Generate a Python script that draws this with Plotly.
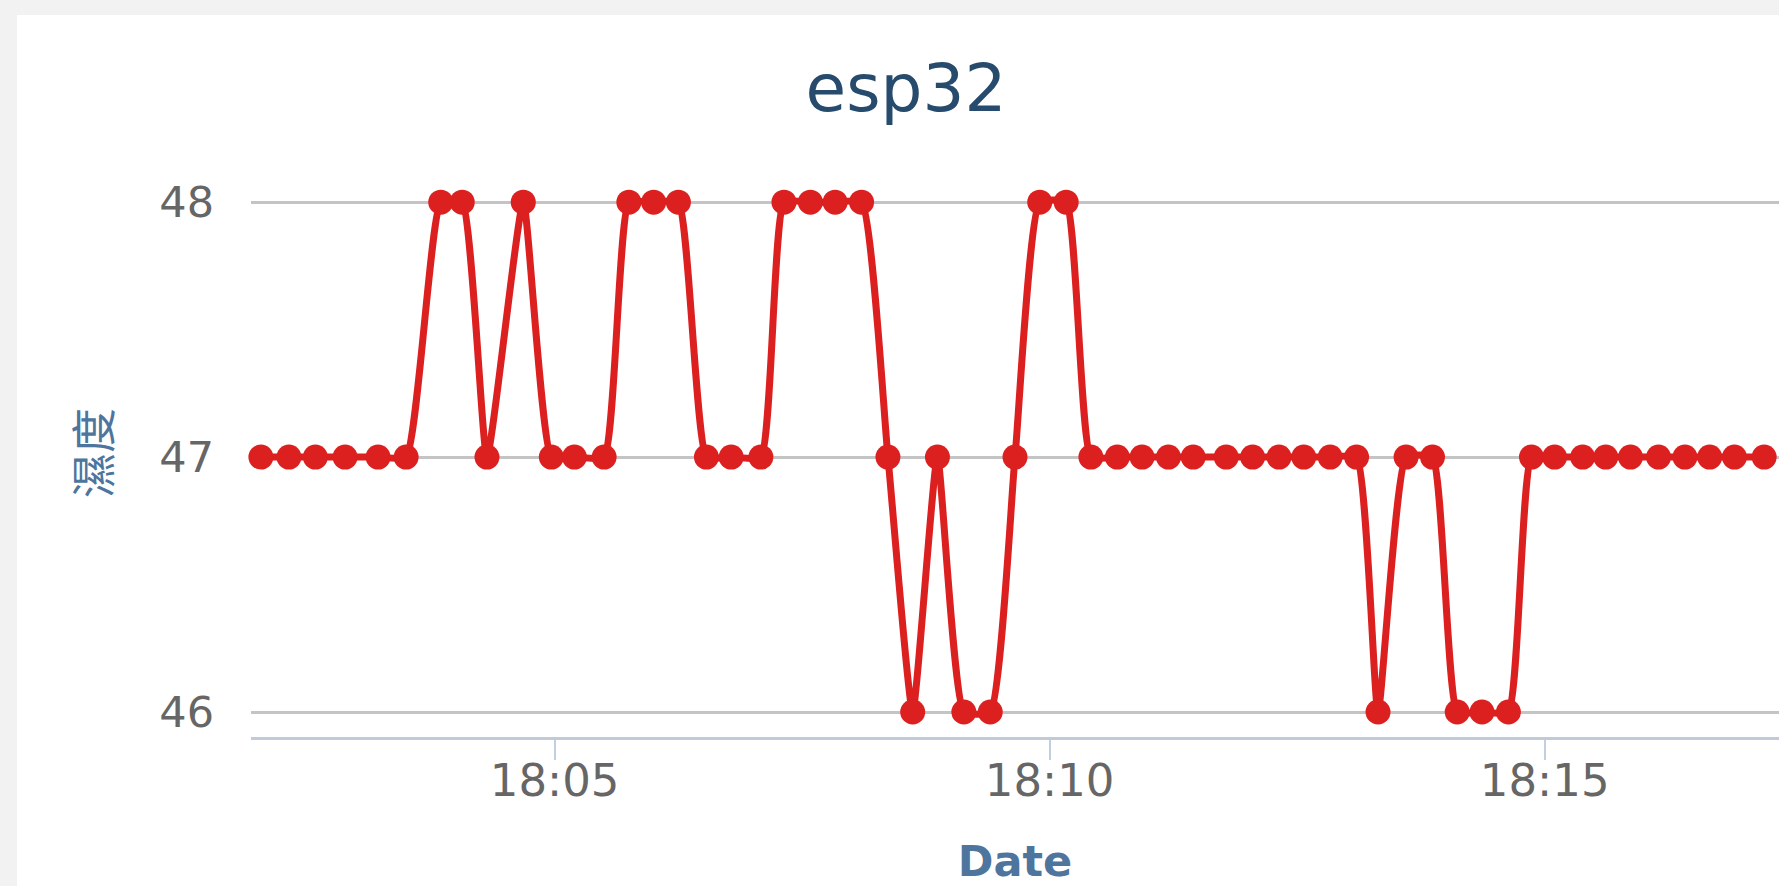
import plotly.graph_objects as go

# ---- data ----
day = "2024-01-01"
times = [
    "18:02:02", "18:02:19", "18:02:35", "18:02:53", "18:03:13", "18:03:30",
    "18:03:51", "18:04:04", "18:04:19", "18:04:41", "18:04:58", "18:05:12",
    "18:05:30", "18:05:45", "18:06:00", "18:06:15", "18:06:32", "18:06:47",
    "18:07:05", "18:07:19", "18:07:35", "18:07:50", "18:08:06", "18:08:22",
    "18:08:37", "18:08:52", "18:09:08", "18:09:24", "18:09:39", "18:09:54",
    "18:10:10", "18:10:25", "18:10:41", "18:10:56", "18:11:12", "18:11:27",
    "18:11:47", "18:12:03", "18:12:19", "18:12:34", "18:12:50", "18:13:06",
    "18:13:19", "18:13:36", "18:13:52", "18:14:07", "18:14:22", "18:14:38",
    "18:14:52", "18:15:06", "18:15:23", "18:15:37", "18:15:52", "18:16:09",
    "18:16:25", "18:16:40", "18:16:55", "18:17:13",
]
humidity = [
    47, 47, 47, 47, 47, 47,
    48, 48, 47, 48, 47, 47,
    47, 48, 48, 48, 47, 47,
    47, 48, 48, 48, 48, 47,
    46, 47, 46, 46, 47, 48,
    48, 47, 47, 47, 47, 47,
    47, 47, 47, 47, 47, 47,
    46, 47, 47, 46, 46, 46,
    47, 47, 47, 47, 47, 47,
    47, 47, 47, 47,
]
y_ticks = [46, 47, 48]
x_range = ["18:01:56", "18:17:22"]
y_range = [45.902, 48.04]

title_text = "esp32"
x_title = "Date"
y_title = "濕度"

# ---- figure ----
x_vals = [f"{day} {t}" for t in times]
RED = "#dc1f1f"
FONT = "DejaVu Sans, Noto Sans CJK TC, sans-serif"

W, H = 1779, 886
ML, MR, MT, MB = 251, 0, 192, 149
pw = W - ML - MR
ph = H - MT - MB

fig = go.Figure()
fig.add_trace(go.Scatter(
    x=x_vals, y=humidity, mode="lines+markers",
    line=dict(color=RED, width=7, shape="spline", smoothing=0.45),
    marker=dict(color=RED, size=25),
    cliponaxis=False, showlegend=False,
))

fig.update_layout(
    width=W, height=H,
    margin=dict(l=ML, r=MR, t=MT, b=MB, pad=0),
    paper_bgcolor="#f2f2f2",
    plot_bgcolor="white",
    font=dict(family=FONT, color="#666666"),
    title=dict(text=title_text, x=906 / W, xref="container", xanchor="center",
               y=1 - 88 / H, yref="container", yanchor="middle",
               font=dict(size=66, color="#274b6d", family=FONT)),
    xaxis=dict(
        type="date", range=[f"{day} {x_range[0]}", f"{day} {x_range[1]}"],
        dtick=5 * 60 * 1000, tick0=f"{day} 18:00:00", tickformat="%H:%M",
        showgrid=False, zeroline=False,
        showline=True, linecolor="#c0cad8", linewidth=2.5,
        ticks="outside", ticklen=20, tickwidth=2, tickcolor="#c0d0e0",
        ticklabelstandoff=-18,
        tickfont=dict(size=45, color="#666666"),
        title=dict(text=f"<b>{x_title}</b>", standoff=46,
                   font=dict(size=43, color="#4d759e")),
    ),
    yaxis=dict(
        range=y_range, tickvals=y_ticks, ticktext=[str(v) for v in y_ticks],
        showgrid=True, gridcolor="#c4c4c4", gridwidth=2.5,
        zeroline=False, showline=False, ticks="",
        ticklabelstandoff=36,
        tickfont=dict(size=43, color="#666666"),
    ),
    shapes=[dict(
        type="rect", xref="paper", yref="paper", layer="below",
        x0=(17 - ML) / pw, x1=1.01, y0=-(MB + 5) / ph, y1=(ph + MT - 15) / ph,
        fillcolor="white", line=dict(width=0),
    )],
    annotations=[dict(
        text=y_title, xref="paper", yref="paper",
        x=(91 - ML) / pw, y=(MT + ph - 453) / ph,
        xanchor="center", yanchor="middle", textangle=-90, showarrow=False,
        font=dict(size=45, color="#4d759e", family="Noto Sans CJK TC"),
    )],
)

fig.write_html(
    "out.html",
    config={"displayModeBar": False},
    post_script="document.body.style.margin='0';document.body.style.overflow='hidden';",
)
